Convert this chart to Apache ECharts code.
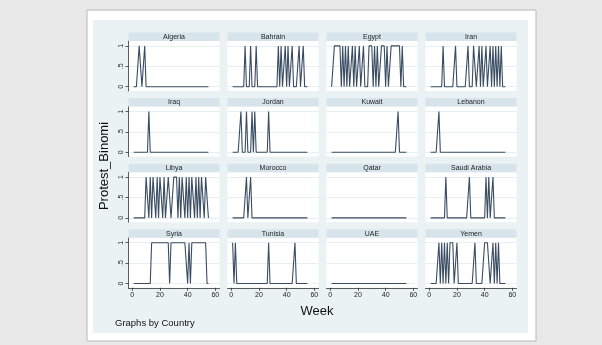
<!DOCTYPE html>
<html>
<head>
<meta charset="utf-8">
<script src="https://cdn.jsdelivr.net/npm/echarts@6/dist/echarts.min.js"></script>
<style>
  html, body { margin: 0; padding: 0; background: #e8e8e8; }
  #chart { width: 602px; height: 345px; }
</style>
</head>
<body>
<div id="chart"></div>
<script>
// weeks observed in the panel data
const weeks = [];
for (let w = 1; w <= 55; w++) weeks.push(w);

const countries = ['Algeria', 'Bahrain', 'Egypt', 'Iran', 'Iraq', 'Jordan', 'Kuwait', 'Lebanon',
  'Libya', 'Morocco', 'Qatar', 'Saudi Arabia', 'Syria', 'Tunisia', 'UAE', 'Yemen'];

// weeks in which Protest_Binomi == 1
const algeria = [5, 6, 9];
const bahrain = [10, 14, 18, 34, 36, 39, 41, 44, 49, 52];
const egypt = [3, 4, 5, 6, 7, 9, 11, 13, 16, 18, 21, 24, 28, 29, 30, 32, 34, 37, 38, 39, 41, 44, 45, 46, 47, 48, 49, 50, 52];
const iran = [10, 19, 28, 32, 33, 36, 38, 41, 44, 46, 48, 50, 52];
const iraq = [12];
const jordan = [7, 11, 15, 17, 27];
const kuwait = [49];
const lebanon = [7];
const libya = [10, 11, 13, 15, 16, 18, 20, 21, 23, 26, 27, 30, 31, 32, 34, 36, 37, 39, 41, 43, 44, 46, 48, 50, 51, 53, 54];
const morocco = [11, 14];
const qatar = [];
const saudi = [12, 29, 41, 43, 46];
const syria = [14, 15, 16, 17, 18, 19, 20, 21, 22, 23, 24, 25, 26, 28, 29, 30, 31, 32, 33, 34, 35, 36, 37, 38, 39, 41,
  43, 44, 45, 46, 47, 48, 49, 50, 51, 52, 53];
const tunisia = [1, 3, 27, 46];
const uae = [];
const yemen = [7, 9, 11, 13, 15, 16, 17, 20, 33, 40, 41, 42, 43, 46, 48, 50];

const protestWeeks = [algeria, bahrain, egypt, iran, iraq, jordan, kuwait, lebanon,
  libya, morocco, qatar, saudi, syria, tunisia, uae, yemen];

const xTicks = [0, 20, 40, 60];
const yTicks = [0, 0.5, 1];
const yTickLabels = ['0', '.5', '1'];

const chart = echarts.init(document.getElementById('chart'));

const grids = [], xAxes = [], yAxes = [], series = [], graphics = [];

// page card + stata graph region
graphics.push({ type: 'rect', shape: { x: 87, y: 10, width: 449, height: 331 },
  style: { fill: '#ffffff', stroke: '#b8b8b8', lineWidth: 1 }, z: -10 });
graphics.push({ type: 'rect', shape: { x: 93, y: 20, width: 435, height: 313 },
  style: { fill: '#eaf2f3' }, z: -9 });

countries.forEach(function (name, i) {
  const r = Math.floor(i / 4), c = i % 4;
  const left = 128.5 + c * 99;
  const top = 41 + r * 65.6;
  const w = 91, h = 50;
  const isBottom = r === 3, isLeft = c === 0;

  grids.push({ left: left, top: top, width: w, height: h, show: true,
    backgroundColor: '#ffffff', borderWidth: 0 });

  xAxes.push({
    type: 'value', gridIndex: i, min: -2.7, max: 63,
    axisLine: { show: isBottom, onZero: false, lineStyle: { color: '#333', width: 0.8 } },
    axisTick: { show: isBottom, length: 3, customValues: xTicks, lineStyle: { color: '#333', width: 0.8 } },
    axisLabel: { show: isBottom, customValues: xTicks, fontSize: 7, color: '#222', margin: 4,
      fontFamily: 'Liberation Sans, Arial' },
    splitLine: { show: false }
  });

  yAxes.push({
    type: 'value', gridIndex: i, min: -0.105, max: 1.12,
    axisLine: { show: isLeft, onZero: false, lineStyle: { color: '#333', width: 0.8 } },
    axisTick: { show: isLeft, length: 3, customValues: yTicks, lineStyle: { color: '#333', width: 0.8 } },
    axisLabel: { show: isLeft, customValues: yTicks, fontSize: 7, color: '#222', margin: 4, rotate: 90,
      fontFamily: 'Liberation Sans, Arial',
      formatter: function (v) { return yTickLabels[yTicks.indexOf(v)] || ''; } },
    splitLine: { show: true, lineStyle: { color: '#e8eff1', width: 1 } }
  });

  const ones = protestWeeks[i];
  series.push({
    type: 'line', name: name, xAxisIndex: i, yAxisIndex: i,
    data: weeks.map(function (wk) { return [wk, ones.indexOf(wk) >= 0 ? 1 : 0]; }),
    symbol: 'none', animation: false,
    lineStyle: { color: '#3a4c62', width: 1.1 }
  });

  // by() subtitle strip
  graphics.push({ type: 'rect', shape: { x: left, y: top - 8.5, width: w, height: 8.5 },
    style: { fill: '#d7e4eb' }, z: 1 });
  graphics.push({ type: 'text', x: left + w / 2, y: top - 4.2,
    style: { text: name, fontSize: 7, fill: '#222', align: 'center', verticalAlign: 'middle',
      fontFamily: 'Liberation Sans, Arial' }, z: 2 });
});

graphics.push({ type: 'text', x: 104, y: 166, rotation: Math.PI / 2,
  style: { text: 'Protest_Binomi', fontSize: 13, fill: '#111', align: 'center', verticalAlign: 'middle',
    fontFamily: 'Liberation Sans, Arial' } });
graphics.push({ type: 'text', x: 317, y: 311,
  style: { text: 'Week', fontSize: 13, fill: '#111', align: 'center', verticalAlign: 'middle',
    fontFamily: 'Liberation Sans, Arial' } });
graphics.push({ type: 'text', x: 115, y: 323,
  style: { text: 'Graphs by Country', fontSize: 9.5, fill: '#111', align: 'left', verticalAlign: 'middle',
    fontFamily: 'Liberation Sans, Arial' } });

chart.setOption({
  backgroundColor: '#e8e8e8',
  animation: false,
  grid: grids,
  xAxis: xAxes,
  yAxis: yAxes,
  series: series,
  graphic: graphics
});
</script>
</body>
</html>
